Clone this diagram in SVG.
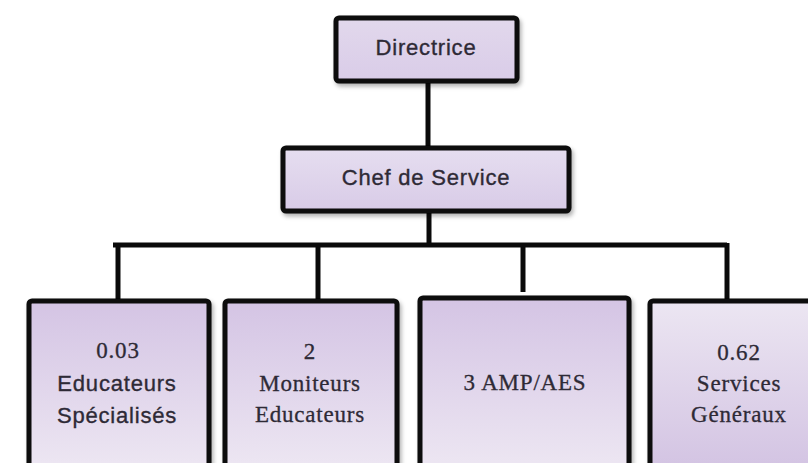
<svg xmlns="http://www.w3.org/2000/svg" width="808" height="463" viewBox="0 0 808 463">
<defs>
<linearGradient id="gDown" x1="0" y1="0" x2="0" y2="1"><stop offset="0" stop-color="#d4c4e4"/><stop offset="1" stop-color="#eee8f3"/></linearGradient>
<linearGradient id="gUp" x1="0" y1="0" x2="0" y2="1"><stop offset="0" stop-color="#ece6f2"/><stop offset="1" stop-color="#d2c2e2"/></linearGradient>
<linearGradient id="gTop" x1="0" y1="0" x2="0" y2="1"><stop offset="0" stop-color="#e2d8ec"/><stop offset="1" stop-color="#d9cce8"/></linearGradient>
<linearGradient id="gChef" x1="0" y1="0" x2="0" y2="1"><stop offset="0" stop-color="#e6def0"/><stop offset="1" stop-color="#d8cbe7"/></linearGradient>
<filter id="sh" x="-10%" y="-10%" width="130%" height="140%"><feDropShadow dx="2" dy="3" stdDeviation="2" flood-color="#000" flood-opacity="0.3"/></filter>
</defs>
<style>
.box{stroke:#0a0a0a;stroke-width:5;filter:url(#sh)}
.con{stroke:#0a0a0a;stroke-width:5;fill:none}
.sans{font-family:"Liberation Sans",Arial,sans-serif;font-size:22px;fill:#2e2a36;stroke:#2e2a36;stroke-width:0.35;letter-spacing:0.8px;text-anchor:middle}
.serif{font-family:"Liberation Serif","Times New Roman",serif;font-size:23px;fill:#2e2a36;stroke:#2e2a36;stroke-width:0.3;letter-spacing:0.8px;text-anchor:middle}
</style>
<rect width="808" height="463" fill="#fff"/>
<g id="connectors">
<path class="con" d="M428 82 V147"/>
<path class="con" d="M429 212 V245"/>
<path class="con" d="M113 245 H727"/>
<path class="con" d="M118 245 V300"/>
<path class="con" d="M318 245 V300"/>
<path class="con" d="M523 245 V292"/>
<path class="con" d="M727 243 V300"/>
</g>
<g id="directrice">
<rect class="box" x="336" y="18" width="181" height="63" rx="3" fill="url(#gTop)"/>
<text class="sans" x="426" y="55">Directrice</text>
</g>
<g id="chef">
<rect class="box" x="283" y="148" width="286" height="63" rx="3" fill="url(#gChef)"/>
<text class="sans" x="426" y="185">Chef de Service</text>
</g>
<g id="educateurs">
<rect class="box" x="29" y="301" width="180" height="175" rx="3" fill="url(#gDown)"/>
<text class="serif" x="118" y="358">0.03</text>
<text class="sans" x="117" y="391">Educateurs</text>
<text class="sans" x="117" y="423">Spécialisés</text>
</g>
<g id="moniteurs">
<rect class="box" x="225" y="301" width="172" height="175" rx="3" fill="url(#gDown)"/>
<text class="serif" x="310" y="359">2</text>
<text class="serif" x="310" y="391">Moniteurs</text>
<text class="serif" x="310" y="422">Educateurs</text>
</g>
<g id="amp">
<rect class="box" x="420" y="298" width="209" height="178" rx="3" fill="url(#gDown)"/>
<text class="serif" x="525" y="390">3 AMP/AES</text>
</g>
<g id="services">
<rect class="box" x="650" y="301" width="170" height="175" rx="3" fill="url(#gUp)"/>
<text class="serif" x="739" y="360">0.62</text>
<text class="serif" x="739" y="391">Services</text>
<text class="serif" x="739" y="422">Généraux</text>
</g>
</svg>
